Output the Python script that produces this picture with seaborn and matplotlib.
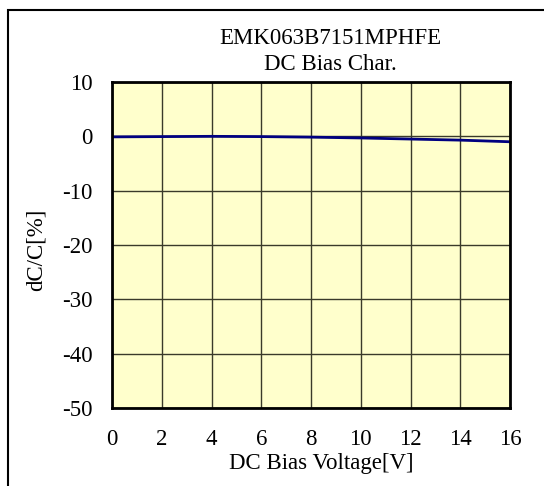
import matplotlib
matplotlib.use("Agg")
import matplotlib.pyplot as plt
import seaborn as sns
import pandas as pd
from matplotlib.patches import Rectangle

voltage = [0, 2, 4, 6, 8, 10, 12, 14, 16]
dc_change = [-0.1, -0.05, 0.0, -0.05, -0.15, -0.3, -0.5, -0.7, -1.0]
x_ticks = [0, 2, 4, 6, 8, 10, 12, 14, 16]
y_ticks = [10, 0, -10, -20, -30, -40, -50]
title_lines = ["EMK063B7151MPHFE", "DC Bias Char."]

df = pd.DataFrame({"V": voltage, "dC": dc_change})

sns.set_theme(style="white")
plt.rcParams["font.family"] = ["Liberation Serif", "DejaVu Serif"]
plt.rcParams["text.color"] = "black"
plt.rcParams["xtick.color"] = "black"
plt.rcParams["ytick.color"] = "black"

FS = 16.5
W, H = 544, 486
fig = plt.figure(figsize=(W / 100, H / 100), dpi=100)
ax = fig.add_axes([112 / W, 1 - 408 / H, (510 - 112) / W, (408 - 82) / H])
ax.set_facecolor("#FFFFCC")

sns.lineplot(data=df, x="V", y="dC", ax=ax, color="#000080", linewidth=2)

ax.set_xlim(0, 16)
ax.set_ylim(-50, 10)
ax.set_xticks(x_ticks)
ax.set_yticks(y_ticks)
ax.set_xticklabels([str(t) for t in x_ticks], fontsize=FS, color="black")
ax.set_yticklabels([str(t) for t in y_ticks], fontsize=FS, color="black")
ax.tick_params(axis="x", length=0, pad=15)
ax.tick_params(axis="y", length=0, pad=14)
ax.grid(True, color="#3a3a2a", linewidth=1)
for s in ax.spines.values():
    s.set_color("black")
    s.set_linewidth(2)
ax.set_xlabel("")
ax.set_ylabel("")

fig.text(321 / W, 1 - 463 / H, "DC Bias Voltage[V]", ha="center", va="center", fontsize=FS, color="black")
fig.text(36 / W, 1 - 250 / H, "dC/C[%]", ha="center", va="center", rotation=90, fontsize=FS, color="black")
fig.text(330 / W, 1 - 39 / H, title_lines[0], ha="center", va="center", fontsize=FS, color="black")
fig.text(330 / W, 1 - 65 / H, title_lines[1], ha="center", va="center", fontsize=FS, color="black")

fig.patches.append(Rectangle((8 / W, -0.1), 1.2, (1 - 10 / H) + 0.1, transform=fig.transFigure,
                             fill=False, edgecolor="black", linewidth=1.5, clip_on=False))

fig.savefig("out.png", dpi=100, facecolor="white")
